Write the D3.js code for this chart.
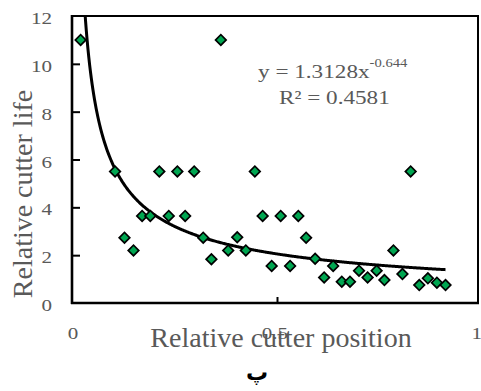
<!DOCTYPE html>
<html><head><meta charset="utf-8">
<script src="https://cdn.jsdelivr.net/npm/d3@7"></script>
<style>body{margin:0;background:#fff}svg{display:block}</style>
</head><body>
<svg id="c" width="481" height="391"></svg>
<script>
const xValues = [0.021,0.105,0.128,0.150,0.171,0.191,0.213,0.236,0.257,0.276,0.298,0.320,0.340,0.363,0.381,0.403,0.424,0.446,0.465,0.487,0.509,0.532,0.552,0.571,0.593,0.615,0.637,0.658,0.678,0.700,0.721,0.743,0.762,0.784,0.806,0.826,0.847,0.868,0.890,0.911];
const yValues = [11,5.5,2.73,2.2,3.64,3.64,5.5,3.64,5.5,3.64,5.5,2.73,1.83,11,2.2,2.75,2.2,5.5,3.64,1.55,3.64,1.55,3.64,2.73,1.85,1.07,1.55,0.89,0.89,1.35,1.07,1.35,0.96,2.2,1.21,5.5,0.75,1.03,0.85,0.75];
const xTicks = [0, 0.5, 1];
const xTickLabels = ["0", "0.5", "1"];
const yTicks = [0, 2, 4, 6, 8, 10, 12];
const trendA = 1.3128, trendB = -0.644;
const eqLabel = "y = 1.3128x";
const eqExp = "-0.644";
const r2Label = "R² = 0.4581";
const xTitle = "Relative cutter position";
const yTitle = "Relative cutter life";
const caption = "پ";

const svg = d3.select("#c");
const L = 72, T = 16, B = 303, Rb = 478;
const x = d3.scaleLinear().domain([0, 1]).range([L, L + 410]);
const y = d3.scaleLinear().domain([0, 12]).range([B, T]);
const font = "'Liberation Serif','Times New Roman',serif";
const grey = "#595959";
const SX = 1.24;

svg.append("defs").append("clipPath").attr("id","clip")
  .append("rect").attr("x",L).attr("y",T).attr("width",Rb-L).attr("height",B-T);

// plot border
svg.append("rect").attr("x",L).attr("y",T).attr("width",Rb-L).attr("height",B-T)
  .attr("fill","none").attr("stroke","#000").attr("stroke-width",2);
svg.append("line").attr("x1",L).attr("x2",L).attr("y1",T-1).attr("y2",B+1)
  .attr("stroke","#000").attr("stroke-width",2.6);
svg.append("line").attr("x1",L-1).attr("x2",Rb+1).attr("y1",B).attr("y2",B)
  .attr("stroke","#000").attr("stroke-width",2.6);

// y axis
const yAxis = d3.axisRight(y).tickValues(yTicks).tickSize(8).tickFormat("");
const gy = svg.append("g").attr("transform",`translate(${L},0)`).call(yAxis);
gy.select(".domain").remove();
gy.selectAll(".tick line").attr("stroke","#000").attr("stroke-width",2);
gy.selectAll(".tick").filter(d => d === 0 || d === 12).select("line").remove();
svg.append("g").selectAll("text").data(yTicks).join("text")
  .attr("transform", d => `translate(52,${y(d) + 8}) scale(${SX},1)`)
  .attr("text-anchor","end")
  .attr("font-family",font).attr("font-size",17).attr("fill",grey).text(d => d);

// x axis
const xAxis = d3.axisTop(x).tickValues([0.5]).tickSize(6).tickFormat("");
const gx = svg.append("g").attr("transform",`translate(0,${B})`).call(xAxis);
gx.select(".domain").remove();
gx.selectAll(".tick line").attr("stroke","#000").attr("stroke-width",2);
svg.append("g").selectAll("text").data(xTicks).join("text")
  .attr("transform", d => `translate(${x(d) * 0.985 + 2},339) scale(${SX},1)`)
  .attr("text-anchor","middle")
  .attr("font-family",font).attr("font-size",17).attr("fill",grey).text((d,i) => xTickLabels[i]);

// trendline
const trendX = d3.range(0.021, 0.9111, 0.002);
const line = d3.line().x(d => x(d)).y(d => y(trendA * Math.pow(d, trendB)));
svg.append("path").datum(trendX).attr("d", line).attr("clip-path","url(#clip)")
  .attr("fill","none").attr("stroke","#000").attr("stroke-width",3);

// points
const pts = xValues.map((v,i) => [v, yValues[i]]);
svg.append("g").selectAll("path").data(pts).join("path")
  .attr("d", d3.symbol().type(d3.symbolSquare).size(56))
  .attr("transform", d => `translate(${x(d[0])},${y(d[1])}) rotate(45)`)
  .attr("fill","#00a651").attr("stroke","#000").attr("stroke-width",1.7);

// equation
const eq = svg.append("text").attr("transform","translate(258,78) scale(1.22,1)")
  .attr("font-family",font).attr("font-size",19).attr("fill",grey);
eq.append("tspan").text(eqLabel);
eq.append("tspan").attr("dy",-11).attr("font-size",12).text(eqExp);
svg.append("text").attr("transform","translate(279,104) scale(1.22,1)")
  .attr("font-family",font).attr("font-size",19).attr("fill",grey).text(r2Label);

// titles
svg.append("text").attr("x",281).attr("y",347).attr("text-anchor","middle")
  .attr("font-family",font).attr("font-size",28).attr("fill",grey).text(xTitle);
svg.append("text").attr("transform","translate(32,194) rotate(-90)").attr("text-anchor","middle")
  .attr("font-family",font).attr("font-size",28).attr("fill",grey).text(yTitle);
svg.append("text").attr("x",257).attr("y",380).attr("text-anchor","middle")
  .attr("font-family","'Noto Sans','DejaVu Sans',sans-serif").attr("font-weight","bold").attr("font-size",22).attr("fill","#000").text(caption);
</script>
</body></html>
